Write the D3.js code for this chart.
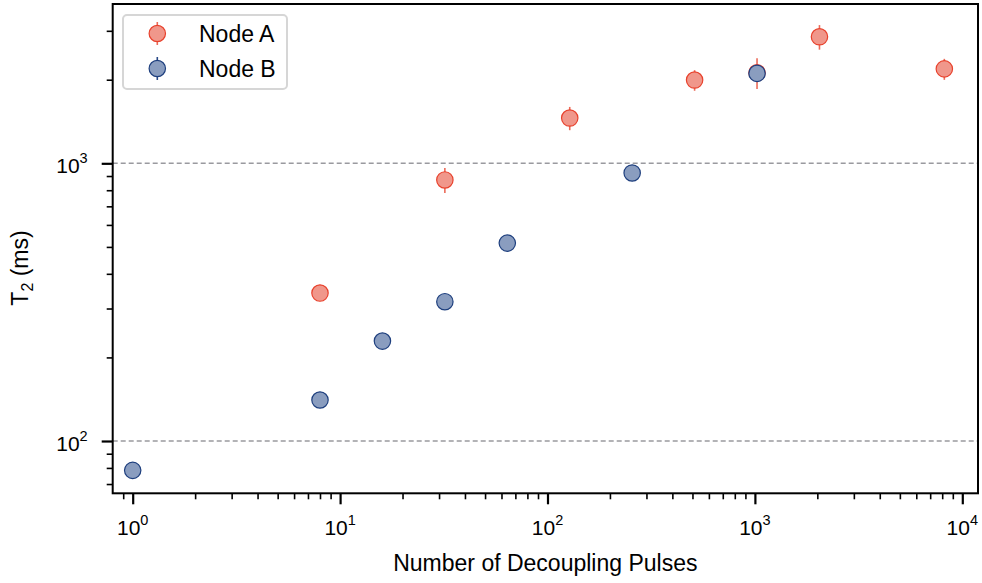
<!DOCTYPE html>
<html><head><meta charset="utf-8">
<script src="https://cdn.jsdelivr.net/npm/d3@7"></script>
<style>body{margin:0;background:#fff}svg{display:block}text{font-family:"Liberation Sans",Arial,Helvetica,sans-serif;fill:#000}</style>
</head><body><svg id="c" width="982" height="583"></svg>
<script>
const seriesNames = ["Node A", "Node B"];
const pulsesA = [8, 32, 128, 512, 1024, 2048, 8192];
const t2A = [341, 871, 1456, 1995, 2120, 2856, 2188];
const errA = [15, 90, 140, 170, 270, 290, 190];
const pulsesB = [1, 8, 16, 32, 64, 256, 1024];
const t2B = [78.4, 140.5, 229, 317.5, 516, 923, 2108];
const errB = [3, 6, 10, 12, 20, 30, 60];
const xMajor = [1, 10, 100, 1000, 10000];
const xMajorExp = ["0", "1", "2", "3", "4"];
const yMajor = [100, 1000];
const yMajorExp = ["2", "3"];
const refLines = [100, 1000];
const xLabel = "Number of Decoupling Pulses";

const svg = d3.select("#c");
const L = 112.7, R = 978, T = 4, B = 493.3;
const x = d3.scaleLog().domain([Math.pow(10, -0.0964), Math.pow(10, 4.0757)]).range([L, R]);
const y = d3.scaleLog().domain([Math.pow(10, 1.8117), Math.pow(10, 3.5737)]).range([B, T]);

const colors = [{fill:"#f0978b", stroke:"#e8412c", bar:"#ec6a58"},{fill:"#8a9dbf", stroke:"#1e3f7e", bar:"#2a4a88"}];

// reference lines
svg.selectAll("line.ref").data(refLines).enter().append("line")
  .attr("x1", L).attr("x2", R).attr("y1", d => y(d)).attr("y2", d => y(d))
  .attr("stroke", "#9a9a9f").attr("stroke-width", 1.4).attr("stroke-dasharray", "5,3");

// minor ticks
function minors(lo, hi) { const out=[]; for (let e=Math.floor(Math.log10(lo)); e<=Math.ceil(Math.log10(hi)); e++) for (let k=2;k<=9;k++){const v=k*Math.pow(10,e); if(v>=lo&&v<=hi) out.push(v);} return out; }
const xMin = minors(x.domain()[0], x.domain()[1]);
const yMin = minors(y.domain()[0], y.domain()[1]);

const gx = svg.append("g").attr("transform", `translate(0,${B})`);
gx.call(d3.axisBottom(x).tickValues(xMin).tickSize(6).tickFormat(""));
gx.append("g").call(d3.axisBottom(x).tickValues(xMajor).tickSize(11).tickFormat(""));
gx.selectAll("path.domain").remove();
gx.selectAll(".tick line").attr("stroke", "#000").attr("stroke-width", 1.6);
gx.selectAll("g g .tick line").attr("stroke-width", 2.2);
const xl = gx.append("g").selectAll("text").data(xMajor).enter().append("text")
  .attr("x", d => x(d)).attr("y", 42).attr("text-anchor", "middle").style("font-size", "21px");
xl.append("tspan").text("10");
xl.append("tspan").attr("dy", -10).style("font-size", "14.5px").text((d,i) => xMajorExp[i]);

const gy = svg.append("g").attr("transform", `translate(${L},0)`);
gy.call(d3.axisLeft(y).tickValues(yMin).tickSize(6).tickFormat(""));
gy.append("g").call(d3.axisLeft(y).tickValues(yMajor).tickSize(11).tickFormat(""));
gy.selectAll("path.domain").remove();
gy.selectAll(".tick line").attr("stroke", "#000").attr("stroke-width", 1.6);
gy.selectAll("g g .tick line").attr("stroke-width", 2.2);
const yl = gy.append("g").selectAll("text").data(yMajor).enter().append("text")
  .attr("x", -25).attr("y", d => y(d) + 10).attr("text-anchor", "end").style("font-size", "21px");
yl.append("tspan").text("10");
yl.append("tspan").attr("dy", -10).style("font-size", "14.5px").text((d,i) => yMajorExp[i]);

// frame
svg.append("rect").attr("x", L).attr("y", T).attr("width", R - L).attr("height", B - T)
  .attr("fill", "none").attr("stroke", "#000").attr("stroke-width", 2);

// labels
svg.append("text").attr("x", (L + R) / 2).attr("y", 571).attr("text-anchor", "middle").style("font-size", "23px").text(xLabel);
const yt = svg.append("text").attr("transform", "translate(28,268) rotate(-90)").attr("text-anchor", "middle").style("font-size", "23px");
yt.append("tspan").text("T");
yt.append("tspan").attr("dy", 5).style("font-size", "16px").text("2");
yt.append("tspan").attr("dy", -5).text(" (ms)");

// data
const series = [
  {px: pulsesA, v: t2A, e: errA, c: colors[0]},
  {px: pulsesB, v: t2B, e: errB, c: colors[1]}
];
series.forEach(s => {
  const pts = s.px.map((p, i) => ({p, v: s.v[i], e: s.e[i]}));
  const g = svg.append("g");
  g.selectAll("line").data(pts).enter().append("line")
    .attr("x1", d => x(d.p)).attr("x2", d => x(d.p))
    .attr("y1", d => y(d.v - d.e)).attr("y2", d => y(d.v + d.e))
    .attr("stroke", s.c.bar).attr("stroke-width", 1.6);
  g.selectAll("circle").data(pts).enter().append("circle")
    .attr("cx", d => x(d.p)).attr("cy", d => y(d.v)).attr("r", 8.2)
    .attr("fill", s.c.fill).attr("stroke", s.c.stroke).attr("stroke-width", 1.2);
});

// legend
const lg = svg.append("g");
lg.append("rect").attr("x", 123).attr("y", 15).attr("width", 164).attr("height", 74).attr("rx", 4)
  .attr("fill", "#fff").attr("fill-opacity", 0.85).attr("stroke", "#d6d6d6").attr("stroke-width", 2);
seriesNames.forEach((n, i) => {
  const cy = 33.5 + i * 35;
  lg.append("line").attr("x1", 157.3).attr("x2", 157.3).attr("y1", cy - 11.5).attr("y2", cy + 11.5)
    .attr("stroke", colors[i].bar).attr("stroke-width", 1.6);
  lg.append("circle").attr("cx", 157.3).attr("cy", cy).attr("r", 8.2)
    .attr("fill", colors[i].fill).attr("stroke", colors[i].stroke).attr("stroke-width", 1.2);
  lg.append("text").attr("x", 199).attr("y", cy + 8).style("font-size", "23px").text(n);
});
</script></body></html>
